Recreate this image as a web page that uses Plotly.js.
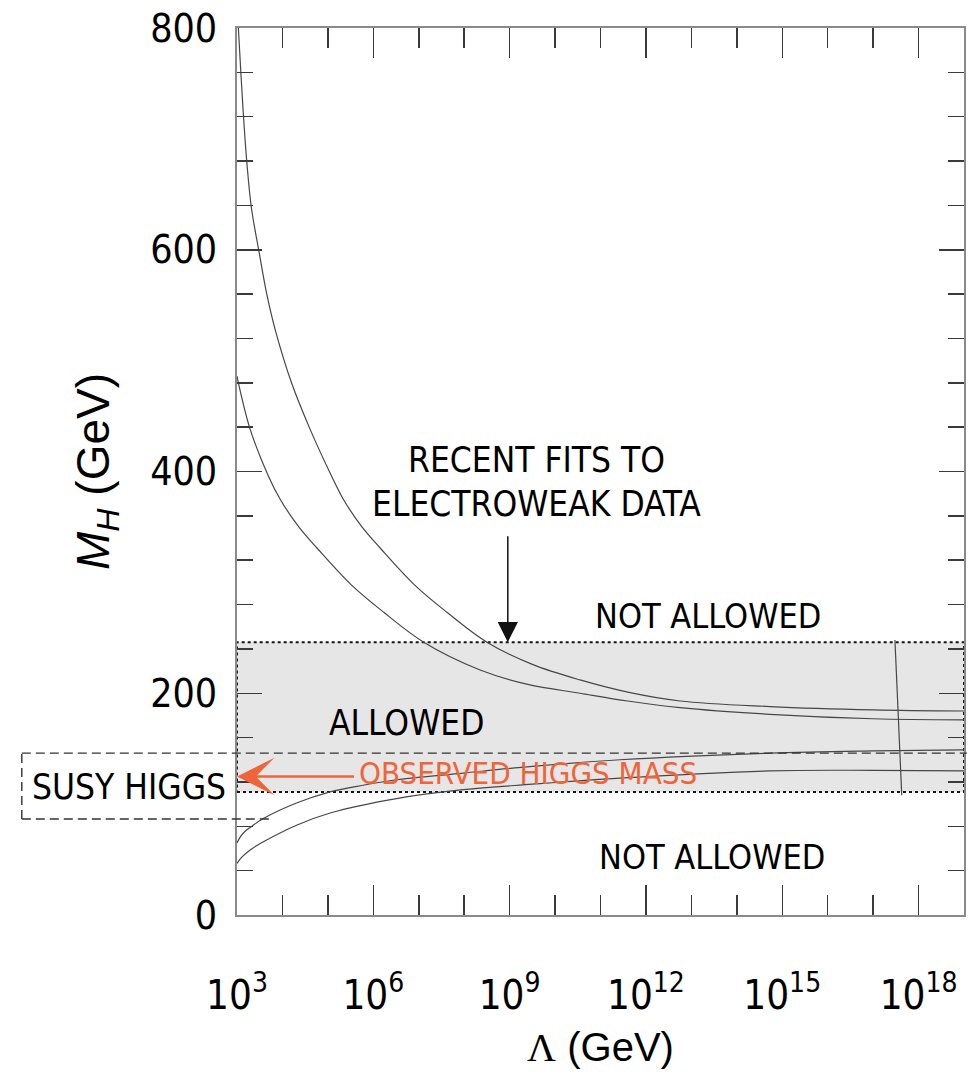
<!DOCTYPE html>
<html>
<head>
<meta charset="utf-8">
<script src="https://cdn.plot.ly/plotly-3.0.1.min.js"></script>
<style>
  html, body { margin: 0; padding: 0; background: #fff; }
  #chart { width: 969px; height: 1078px; }
</style>
</head>
<body>
<div id="chart"></div>
<script>
// Higgs mass bounds as a function of the cut-off scale Lambda.
// Each curve: log10(Lambda / GeV) and M_H in GeV.

// upper (triviality) bound, outer curve
const trivOuterLog  = [3.03, 3.09, 3.15, 3.22, 3.32, 3.49, 3.66, 3.84, 4.20, 4.61, 5.08, 5.34, 5.75, 6.15, 6.90, 7.62, 8.50, 9.50, 10.55, 11.6, 12.75, 14.73, 17.0, 19.0];
const trivOuterMass = [800, 756, 716, 677, 637, 597, 559, 528, 480, 438, 396, 375, 350, 331, 298, 273, 246, 226, 212, 201, 193, 188, 185, 184];

// upper (triviality) bound, inner curve
const trivInnerLog  = [3.00, 3.03, 3.29, 3.69, 3.95, 4.36, 4.76, 5.51, 6.23, 7.11, 8.35, 9.40, 10.55, 11.6, 12.75, 14.73, 17.0, 19.0];
const trivInnerMass = [486, 480, 438, 396, 375, 350, 331, 298, 273, 246, 221, 208, 200, 193, 187, 181, 177, 176];

// lower (vacuum stability) bound, upper curve
const stabUpperLog  = [3.00, 3.08, 3.18, 3.29, 3.58, 4.31, 5.05, 5.77, 6.51, 7.98, 9.50, 11.43, 14.73, 17.0, 19.0];
const stabUpperMass = [65, 71, 75.5, 79, 87, 101, 111, 117, 122, 128, 134, 140, 146, 148, 149];

// lower (vacuum stability) bound, lower curve
const stabLowerLog  = [3.00, 3.10, 3.29, 3.58, 4.31, 5.05, 6.51, 7.98, 9.50, 11.43, 14.73, 17.0, 19.0];
const stabLowerMass = [46.5, 52, 58.7, 66, 81, 92, 105, 113, 118, 123.5, 130, 130.5, 130];

// short vertical marker near the Planck scale
const markerLog  = [17.48, 17.63];
const markerMass = [248, 108];

// shaded region preferred by electroweak fits, and the SUSY Higgs window
const allowedBand = [111, 246];
const susyBand    = [86.6, 146];
const observedHiggsMass = 125;
const fitArrowLog  = 8.96;
const fitArrowMass = 246;

// axis ticks
const xMajorExp = [3, 6, 9, 12, 15, 18];
const xMinorExp = [4, 5, 7, 8, 10, 11, 13, 14, 16, 17];
const yMajor    = [0, 200, 400, 600, 800];

const NARROW = '"Liberation Sans Narrow", "Arial Narrow", "DejaVu Sans Condensed", "Liberation Sans", sans-serif';
const SANS   = '"Liberation Sans", Arial, sans-serif';
const ORANGE = '#f0643a';
const CURVE  = '#474747';

const toLambda = arr => arr.map(e => Math.pow(10, e));

function curve(logs, masses) {
  return {
    type: 'scatter', mode: 'lines',
    x: toLambda(logs), y: masses,
    line: { color: CURVE, width: 1.2, shape: 'spline', smoothing: 1 },
    hoverinfo: 'skip', showlegend: false
  };
}

const traces = [
  curve(trivOuterLog, trivOuterMass),
  curve(trivInnerLog, trivInnerMass),
  curve(stabUpperLog, stabUpperMass),
  curve(stabLowerLog, stabLowerMass),
  {
    type: 'scatter', mode: 'lines',
    x: toLambda(markerLog), y: markerMass,
    line: { color: CURVE, width: 1.2 },
    hoverinfo: 'skip', showlegend: false
  }
];

const tickLine = { ticks: 'inside', tickwidth: 1.5, tickcolor: '#3a3a3a' };

const layout = {
  width: 969, height: 1078,
  margin: { l: 237, r: 5, t: 28, b: 163 },
  paper_bgcolor: '#fff', plot_bgcolor: '#fff',
  showlegend: false,
  xaxis: Object.assign({
    type: 'log', range: [3, 19],
    showline: true, linecolor: '#8a8a8a', linewidth: 2, mirror: 'allticks',
    showgrid: false, zeroline: false,
    tickmode: 'array',
    tickvals: toLambda(xMajorExp),
    ticktext: xMajorExp.map(e => '10<sup>' + e + '</sup>'),
    ticklen: 30,
    minor: Object.assign({ tickvals: toLambda(xMinorExp), ticklen: 20 }, tickLine),
    tickfont: { family: NARROW, size: 40, color: '#000' },
    ticklabelstandoff: 44,
    title: {
      text: '<span style="font-family:\'Liberation Serif\'">Λ</span> (GeV)',
      font: { family: SANS, size: 40, color: '#000' },
      standoff: 16
    }
  }, tickLine),
  yaxis: Object.assign({
    range: [0, 800],
    showline: true, linecolor: '#8a8a8a', linewidth: 2, mirror: 'allticks',
    showgrid: false, zeroline: false,
    tickmode: 'array', tickvals: yMajor,
    ticklen: 25,
    minor: Object.assign({ dtick: 40, ticklen: 16 }, tickLine),
    tickfont: { family: NARROW, size: 39, color: '#000' },
    ticklabelstandoff: 10,
    title: {
      text: '<i>M</i><sub><i>H</i></sub> (GeV)',
      font: { family: SANS, size: 46, color: '#000' },
      standoff: 26
    }
  }, tickLine),
  shapes: [
    // shaded allowed band with dotted outline
    { type: 'rect', layer: 'below', xref: 'paper', yref: 'y',
      x0: 0, x1: 1, y0: allowedBand[0], y1: allowedBand[1],
      fillcolor: '#e6e6e6', line: { color: '#151515', width: 2, dash: 'dot' } },
    // SUSY Higgs window (dashed box extending left of the axis)
    { type: 'line', layer: 'above', xref: 'paper', yref: 'y',
      x0: -0.296, x1: 1.004, y0: susyBand[1], y1: susyBand[1],
      line: { color: '#333', width: 1.4, dash: '9px,5px' } },
    { type: 'line', layer: 'above', xref: 'paper', yref: 'y',
      x0: -0.296, x1: 0.045, y0: susyBand[0], y1: susyBand[0],
      line: { color: '#333', width: 1.4, dash: '9px,5px' } },
    { type: 'line', layer: 'above', xref: 'paper', yref: 'y',
      x0: -0.296, x1: -0.296, y0: susyBand[0], y1: susyBand[1],
      line: { color: '#333', width: 1.4, dash: '9px,5px' } }
  ],
  annotations: [
    { xref: 'x', yref: 'y', x: 9.59, y: 410, text: 'RECENT FITS TO', showarrow: false,
      font: { family: NARROW, size: 35, color: '#000' } },
    { xref: 'x', yref: 'y', x: 9.59, y: 371, text: 'ELECTROWEAK DATA', showarrow: false,
      font: { family: NARROW, size: 35, color: '#000' } },
    { xref: 'x', yref: 'y', x: fitArrowLog, y: fitArrowMass, text: ' ', showarrow: true,
      ax: 0, ay: -116, arrowhead: 2, arrowwidth: 1.5, arrowsize: 2.7, arrowcolor: '#111' },
    { xref: 'x', yref: 'y', x: 13.36, y: 270, text: 'NOT ALLOWED', showarrow: false,
      font: { family: NARROW, size: 34, color: '#000' } },
    { xref: 'x', yref: 'y', x: 13.45, y: 52, text: 'NOT ALLOWED', showarrow: false,
      font: { family: NARROW, size: 34, color: '#000' } },
    { xref: 'x', yref: 'y', x: 6.72, y: 173, text: 'ALLOWED', showarrow: false,
      font: { family: NARROW, size: 35, color: '#000' } },
    { xref: 'paper', yref: 'y', x: -0.1486, y: 115.5, xanchor: 'center', text: 'SUSY HIGGS', showarrow: false,
      font: { family: NARROW, size: 35, color: '#000' } },
    { xref: 'x', yref: 'y', x: 3, y: observedHiggsMass, text: ' ', showarrow: true,
      ax: 120, ay: 0, arrowhead: 3, arrowwidth: 2.5, arrowsize: 2.5, arrowcolor: ORANGE },
    { xref: 'x', yref: 'y', x: 9.40, y: 128.5, text: 'OBSERVED HIGGS MASS', showarrow: false,
      font: { family: NARROW, size: 31, color: ORANGE } }
  ]
};

Plotly.newPlot('chart', traces, layout, { staticPlot: true, displayModeBar: false });
</script>
</body>
</html>
